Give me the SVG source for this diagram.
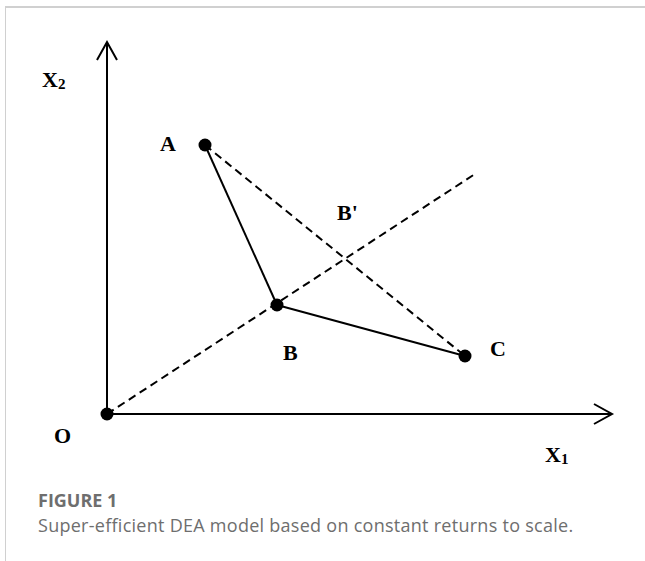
<svg xmlns="http://www.w3.org/2000/svg" width="645" height="561" viewBox="0 0 645 561">
<style>
.ax{stroke:#000;stroke-width:2;fill:none}
.sol{stroke:#000;stroke-width:2;fill:none}
.dash{stroke:#000;stroke-width:2;fill:none;stroke-dasharray:8 5}
.dot{fill:#000}
.lbl{font-family:"Liberation Serif",serif;font-size:22px;font-weight:bold;fill:#000}
.cap{font-family:"Open Sans","Noto Sans",sans-serif;font-size:18px;fill:#6e6e6e}
</style>
<rect width="645" height="561" fill="#fff"/>
<g id="frame" stroke="#d0d0d0" fill="none">
<line x1="5" y1="7" x2="645" y2="7" stroke-width="2"/>
<line x1="5.5" y1="7" x2="5.5" y2="561" stroke-width="1"/>
</g>
<g id="axes">
<line class="ax" x1="107" y1="414" x2="107" y2="43"/>
<polyline class="ax" points="97,60 107,42 117,60"/>
<line class="ax" x1="107" y1="414" x2="611" y2="414"/>
<polyline class="ax" points="594,404 612,414 594,424"/>
</g>
<g id="connectors">
<line class="dash" x1="107" y1="414" x2="475" y2="174"/>
<line class="dash" x1="205" y1="145" x2="465" y2="356"/>
<line class="sol" x1="205" y1="145" x2="277" y2="305"/>
<line class="sol" x1="277" y1="305" x2="465" y2="356"/>
</g>
<g id="node-O"><circle class="dot" cx="107" cy="414" r="6.5"/><text class="lbl" x="54" y="443">O</text></g>
<g id="node-A"><circle class="dot" cx="205" cy="145" r="6.5"/><text class="lbl" x="160" y="151">A</text></g>
<g id="node-B"><circle class="dot" cx="277" cy="305" r="6.5"/><text class="lbl" x="283" y="360">B</text></g>
<g id="node-Bp"><text class="lbl" x="337" y="220">B'</text></g>
<g id="node-C"><circle class="dot" cx="465" cy="356" r="6.5"/><text class="lbl" x="490" y="356">C</text></g>
<g id="label-X2"><text class="lbl" x="42" y="87">X<tspan font-size="15" dy="2">2</tspan></text></g>
<g id="label-X1"><text class="lbl" x="545" y="462">X<tspan font-size="15" dy="2">1</tspan></text></g>
<g id="caption">
<text class="cap" x="38" y="507" font-weight="bold">FIGURE 1</text>
<text class="cap" x="38" y="532" letter-spacing="0.27">Super-efficient DEA model based on constant returns to scale.</text>
</g>
</svg>
